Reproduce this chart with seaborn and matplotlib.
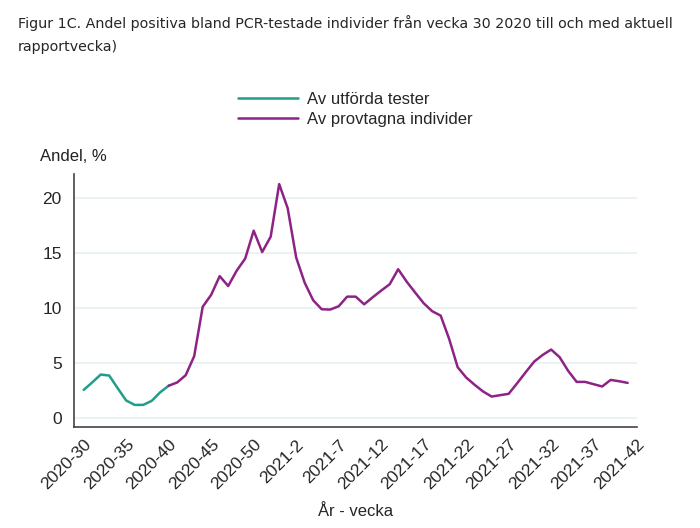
import matplotlib
matplotlib.use("Agg")
import matplotlib.pyplot as plt
from matplotlib.lines import Line2D
import pandas as pd
import seaborn as sns

# week labels: 2020-30 .. 2020-53, 2021-1 .. 2021-41
weeks = [f"2020-{w}" for w in range(30, 54)] + [f"2021-{w}" for w in range(1, 42)]

# Av utförda tester (2020-30 .. 2020-40)
tester = [2.52, 3.2, 3.92, 3.83, 2.67, 1.55, 1.15, 1.15, 1.52, 2.3, 2.9]

# Av provtagna individer (2020-40 .. 2021-41)
individer = [2.9, 3.2, 3.86, 5.6, 10.1, 11.2, 12.9, 12.0, 13.4, 14.5,
             17.05, 15.1, 16.5, 21.3, 19.1, 14.6, 12.3, 10.7, 9.88, 9.85,
             10.15, 11.03, 11.03, 10.33, 10.97, 11.58, 12.16, 13.53, 12.4, 11.4,
             10.43, 9.7, 9.3, 7.17, 4.59, 3.65, 2.98, 2.37, 1.91, 2.04,
             2.16, 3.13, 4.13, 5.1, 5.71, 6.2, 5.5, 4.26, 3.25, 3.25,
             3.04, 2.83, 3.43, 3.31, 3.16]

tick_labels = ["2020-30", "2020-35", "2020-40", "2020-45", "2020-50", "2021-2", "2021-7",
               "2021-12", "2021-17", "2021-22", "2021-27", "2021-32", "2021-37", "2021-42"]

teal = "#1f9e89"
purple = "#8e2386"

df = pd.concat([
    pd.DataFrame({"idx": range(0, len(tester)), "andel": tester, "serie": "Av utförda tester"}),
    pd.DataFrame({"idx": range(10, 10 + len(individer)), "andel": individer, "serie": "Av provtagna individer"}),
])

sns.set_style("white")
plt.rcParams["font.family"] = ["Liberation Sans", "DejaVu Sans"]

fig = plt.figure(figsize=(7, 5.28), dpi=100)
ax = fig.add_axes([0.105, 0.191, 0.805, 0.479])

for y in [0, 5, 10, 15, 20]:
    ax.axhline(y, color="#e8f0f2", lw=1.2, zorder=0)

sns.lineplot(data=df, x="idx", y="andel", hue="serie",
             palette={"Av utförda tester": teal, "Av provtagna individer": purple},
             lw=1.8, ax=ax, legend=False)

ax.set_xlim(-1.2, 65.1)
ax.set_ylim(-0.88, 22.2)
ax.set_xticks(range(0, 66, 5))
ax.set_xticklabels(tick_labels, rotation=45, ha="right", rotation_mode="anchor", fontsize=12.5)
ax.set_yticks([0, 5, 10, 15, 20])
ax.tick_params(axis="y", labelsize=12.5, length=5, color="#444444")
ax.tick_params(axis="x", length=5, color="#444444", pad=2)
ax.set_xlabel("År - vecka", fontsize=12, labelpad=8)
ax.set_ylabel("")
for s in ["top", "right"]:
    ax.spines[s].set_visible(False)
for s in ["left", "bottom"]:
    ax.spines[s].set_color("#444444")
    ax.spines[s].set_linewidth(1.2)

fig.text(0.057, 0.695, "Andel, %", fontsize=12, color="#222222")

fig.text(0.026, 0.947, "Figur 1C. Andel positiva bland PCR-testade individer från vecka 30 2020 till och med aktuell",
         fontsize=10.3, family="DejaVu Sans", va="baseline")
fig.text(0.026, 0.903, "rapportvecka)", fontsize=10.3, family="DejaVu Sans", va="baseline")

# legend
handles = [Line2D([], [], color=teal, lw=1.8), Line2D([], [], color=purple, lw=1.8)]
fig.legend(handles, ["Av utförda tester", "Av provtagna individer"], loc="upper left",
           bbox_to_anchor=(0.318, 0.855), frameon=False, fontsize=12,
           handlelength=3.6, labelspacing=0.3, handletextpad=0.55)

fig.savefig("out.png", dpi=100)
